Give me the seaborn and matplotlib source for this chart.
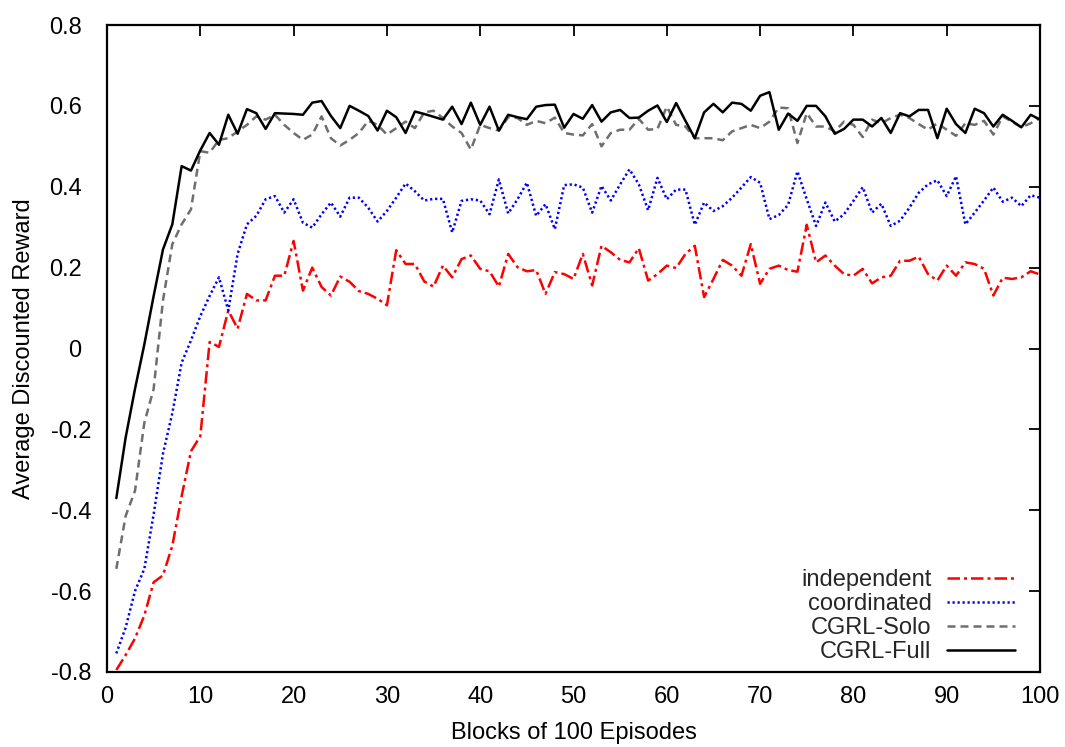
import numpy as np
import pandas as pd
import matplotlib
matplotlib.use("Agg")
import matplotlib.pyplot as plt
import matplotlib.transforms as mtransforms
import seaborn as sns

episodes = list(range(1, 101))

cgrl_full = [-0.37, -0.22, -0.10, 0.01, 0.13, 0.245, 0.307, 0.451, 0.44, 0.49,
             0.533, 0.504, 0.578, 0.531, 0.592, 0.582, 0.543, 0.582, 0.581, 0.58,
             0.578, 0.608, 0.612, 0.575, 0.545, 0.6, 0.588, 0.575, 0.539, 0.588,
             0.572, 0.533, 0.586, 0.58, 0.573, 0.566, 0.598, 0.555, 0.608, 0.553,
             0.598, 0.539, 0.578, 0.572, 0.567, 0.598, 0.602, 0.603, 0.546, 0.58,
             0.568, 0.602, 0.561, 0.584, 0.59, 0.57, 0.571, 0.588, 0.601, 0.56,
             0.607, 0.563, 0.52, 0.584, 0.605, 0.584, 0.608, 0.605, 0.588, 0.625,
             0.634, 0.541, 0.581, 0.563, 0.6, 0.6, 0.574, 0.531, 0.543, 0.566,
             0.566, 0.549, 0.57, 0.533, 0.582, 0.574, 0.59, 0.59, 0.52, 0.593,
             0.555, 0.533, 0.593, 0.582, 0.549, 0.578, 0.563, 0.547, 0.578, 0.566]

cgrl_solo = [-0.545, -0.414, -0.352, -0.184, -0.10, 0.119, 0.258, 0.307, 0.344, 0.488,
             0.484, 0.516, 0.52, 0.537, 0.553, 0.574, 0.566, 0.578, 0.553, 0.533,
             0.516, 0.529, 0.574, 0.52, 0.502, 0.516, 0.533, 0.563, 0.553, 0.529,
             0.545, 0.561, 0.545, 0.584, 0.588, 0.57, 0.549, 0.533, 0.492, 0.553,
             0.545, 0.539, 0.572, 0.57, 0.553, 0.563, 0.557, 0.571, 0.533, 0.529,
             0.527, 0.555, 0.5, 0.533, 0.541, 0.541, 0.568, 0.541, 0.543, 0.598,
             0.553, 0.549, 0.52, 0.52, 0.52, 0.515, 0.537, 0.545, 0.553, 0.545,
             0.561, 0.596, 0.594, 0.508, 0.582, 0.549, 0.549, 0.537, 0.561, 0.553,
             0.523, 0.566, 0.557, 0.57, 0.578, 0.57, 0.555, 0.541, 0.557, 0.541,
             0.526, 0.557, 0.553, 0.563, 0.529, 0.574, 0.561, 0.547, 0.557, 0.57]

coordinated = [-0.754, -0.69, -0.60, -0.545, -0.41, -0.26, -0.16, -0.035, 0.02, 0.08,
               0.13, 0.176, 0.094, 0.234, 0.307, 0.328, 0.369, 0.377, 0.336, 0.369,
               0.311, 0.299, 0.332, 0.361, 0.326, 0.373, 0.373, 0.348, 0.314, 0.34,
               0.373, 0.408, 0.389, 0.366, 0.37, 0.37, 0.287, 0.365, 0.369, 0.366,
               0.332, 0.418, 0.334, 0.369, 0.41, 0.328, 0.357, 0.295, 0.404, 0.406,
               0.398, 0.336, 0.402, 0.366, 0.406, 0.443, 0.406, 0.342, 0.422, 0.369,
               0.393, 0.393, 0.306, 0.361, 0.34, 0.352, 0.373, 0.398, 0.424, 0.41,
               0.32, 0.33, 0.355, 0.438, 0.369, 0.303, 0.361, 0.314, 0.332, 0.365,
               0.399, 0.336, 0.358, 0.303, 0.316, 0.348, 0.385, 0.406, 0.416, 0.377,
               0.426, 0.307, 0.336, 0.366, 0.398, 0.363, 0.373, 0.352, 0.379, 0.373]

independent = [-0.795, -0.758, -0.717, -0.66, -0.578, -0.561, -0.488, -0.365, -0.254, -0.217,
               0.016, 0.004, 0.094, 0.049, 0.135, 0.119, 0.119, 0.18, 0.18, 0.266,
               0.143, 0.2, 0.152, 0.131, 0.178, 0.165, 0.142, 0.135, 0.123, 0.107,
               0.243, 0.209, 0.209, 0.166, 0.153, 0.205, 0.176, 0.221, 0.23, 0.197,
               0.191, 0.153, 0.234, 0.201, 0.191, 0.194, 0.135, 0.189, 0.184, 0.172,
               0.234, 0.156, 0.254, 0.238, 0.219, 0.213, 0.248, 0.168, 0.184, 0.205,
               0.199, 0.234, 0.254, 0.127, 0.172, 0.219, 0.205, 0.18, 0.258, 0.16,
               0.197, 0.205, 0.194, 0.19, 0.306, 0.213, 0.23, 0.205, 0.184, 0.18,
               0.197, 0.161, 0.176, 0.18, 0.217, 0.217, 0.227, 0.184, 0.168, 0.205,
               0.18, 0.213, 0.209, 0.197, 0.131, 0.175, 0.172, 0.176, 0.191, 0.183]

series_names = ["independent", "coordinated", "CGRL-Solo", "CGRL-Full"]
x_ticks = [0, 10, 20, 30, 40, 50, 60, 70, 80, 90, 100]
y_ticks = [-0.8, -0.6, -0.4, -0.2, 0, 0.2, 0.4, 0.6, 0.8]
y_tick_labels = ["-0.8", "-0.6", "-0.4", "-0.2", "0", "0.2", "0.4", "0.6", "0.8"]

sns.set_style("white")
plt.rcParams['font.family'] = ['Liberation Sans', 'DejaVu Sans']
plt.rcParams['axes.unicode_minus'] = False

FS = 17

fig = plt.figure(figsize=(10.65, 7.47), dpi=100)
ax = fig.add_axes([107/1065, 1 - 672/747, (1040-107)/1065, (672-25)/747])

styles = {
    "independent": dict(color="#ff0000", dashes=(5, 1.6, 1.2, 1.6)),
    "coordinated": dict(color="#0000ff", dashes=(0.9, 1.1)),
    "CGRL-Solo": dict(color="#6e6e6e", dashes=(3.2, 2.0)),
    "CGRL-Full": dict(color="#000000", dashes=None),
}
data = {"independent": independent, "coordinated": coordinated,
        "CGRL-Solo": cgrl_solo, "CGRL-Full": cgrl_full}

for name in series_names:
    df = pd.DataFrame({"x": episodes, "y": data[name]})
    st = styles[name]
    sns.lineplot(data=df, x="x", y="y", ax=ax, color=st["color"], lw=1.8,
                 label=name, zorder=3 if name == "CGRL-Full" else 2)
    line = ax.lines[-1]
    if st["dashes"] is not None:
        line.set_dashes(st["dashes"])

ax.set_xlim(0, 100)
ax.set_ylim(-0.8, 0.8)
ax.set_xticks(x_ticks)
ax.set_yticks(y_ticks)
ax.set_yticklabels(y_tick_labels)
ax.tick_params(direction="in", length=8, width=1.3, top=True, right=True,
               labelsize=FS, colors="black")
ax.tick_params(axis="x", pad=10)
ax.tick_params(axis="y", pad=11)

# gnuplot-style label placement: labels without a minus sign sit a bit further left
shift = mtransforms.ScaledTranslation(-10/100, 0, fig.dpi_scale_trans)
for lab, txt in zip(ax.get_yticklabels(), y_tick_labels):
    if not txt.startswith("-"):
        lab.set_transform(lab.get_transform() + shift)

for sp in ax.spines.values():
    sp.set_linewidth(1.6)
    sp.set_color("black")
ax.set_xlabel("Blocks of 100 Episodes", fontsize=FS, labelpad=10, color="black")
ax.set_ylabel("Average Discounted Reward", fontsize=FS, labelpad=10, color="black")

leg = ax.legend(loc="lower right", bbox_to_anchor=(0.9785, 0.006), frameon=False,
                markerfirst=False, fontsize=FS, handlelength=2.9, handletextpad=0.65,
                labelspacing=0.09, borderaxespad=0, borderpad=0.2)

fig.savefig("out.png", dpi=100)
